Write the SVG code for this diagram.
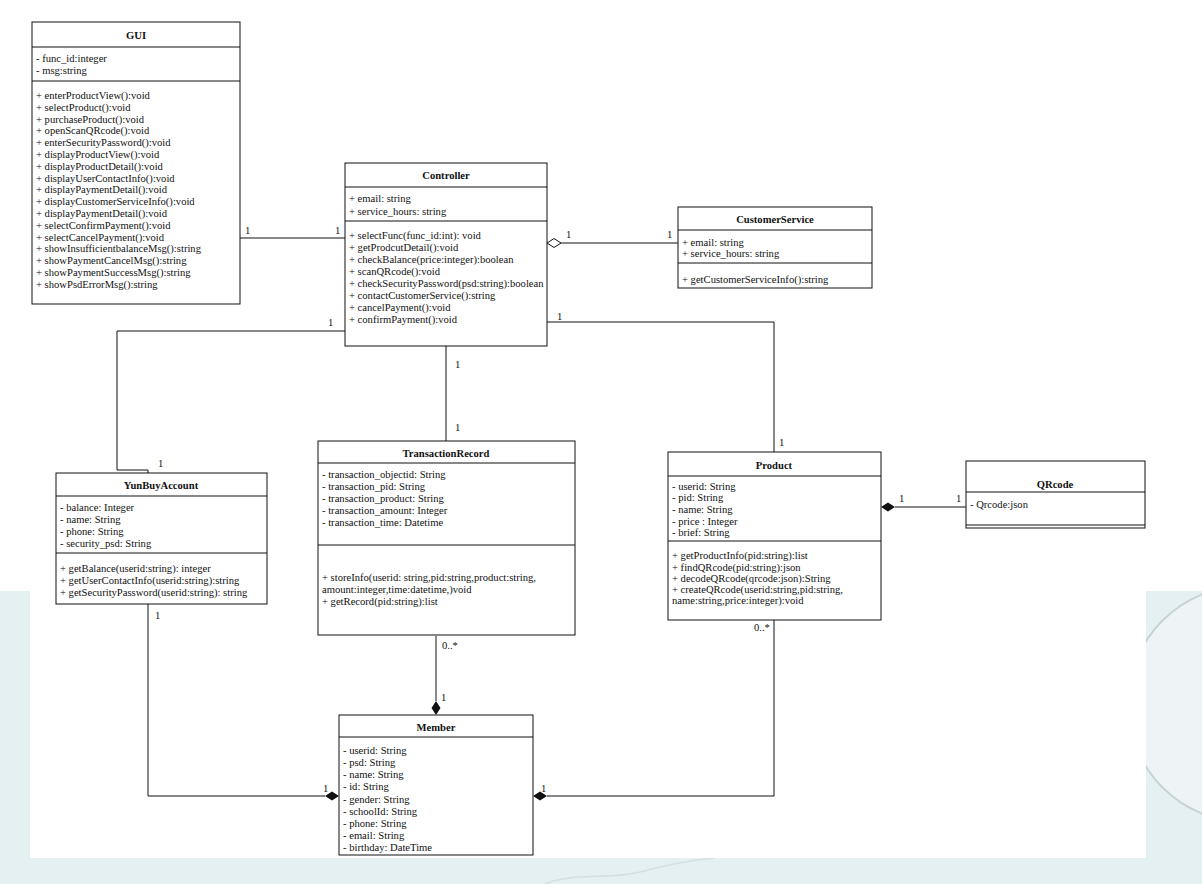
<svg xmlns="http://www.w3.org/2000/svg" width="1202" height="884" viewBox="0 0 1202 884">
<style>
text{font-family:"Liberation Serif","Times New Roman",serif;font-size:10.6px;fill:#111}
.t{font-weight:bold;text-anchor:middle}
.box{fill:#fff;stroke:#111;stroke-width:1}
.sep{stroke:#111;stroke-width:1}
.ln{fill:none;stroke:#111;stroke-width:1}
</style>
<g id="background">
<rect x="0" y="0" width="1202" height="884" fill="#e5f0f2"/>
<circle cx="1246" cy="704" r="118" fill="#eef4f6" stroke="#c7d2d4" stroke-width="2"/>
<path d="M545 884 C575 872,610 880,640 872 S690 860,715 858" fill="none" stroke="#d3dfe1" stroke-width="1.5"/>
<rect x="0" y="0" width="1202" height="591" fill="#fff"/>
<rect x="30" y="0" width="1116" height="858" fill="#fff"/>
</g>
<g id="connectors">
<line class="ln" x1="240" y1="238" x2="345" y2="238"/>
<text x="245" y="234">1</text><text x="335" y="234">1</text>
<path class="ln" d="M547 243 L554 238.5 L561 243 L554 247.5 Z" fill="#fff"/>
<line class="ln" x1="561" y1="243" x2="678" y2="243"/>
<text x="566" y="238">1</text><text x="667" y="238">1</text>
<path class="ln" d="M345 331 L117 331 L117 470 L148 470 L148 473"/>
<text x="328" y="326">1</text><text x="158" y="467">1</text>
<line class="ln" x1="446" y1="346" x2="446" y2="441"/>
<text x="455" y="368">1</text><text x="455" y="431">1</text>
<path class="ln" d="M547 322 L774 322 L774 452"/>
<text x="557" y="320">1</text><text x="779" y="446">1</text>
<line class="ln" x1="895" y1="507" x2="966" y2="507"/>
<path d="M881 507 L888 502.5 L895 507 L888 511.5 Z" fill="#111"/>
<text x="899" y="502">1</text><text x="956" y="502">1</text>
<path class="ln" d="M148 604 L148 796 L325 796"/>
<path d="M339 796 L332 791.5 L325 796 L332 800.5 Z" fill="#111"/>
<text x="155" y="619">1</text><text x="323" y="792">1</text>
<line class="ln" x1="436" y1="636" x2="436" y2="701"/>
<path d="M436 715 L431.5 708 L436 701 L440.5 708 Z" fill="#111"/>
<text x="442" y="649">0..*</text><text x="441" y="701">1</text>
<path class="ln" d="M774 620 L774 796 L547 796"/>
<path d="M533 796 L540 791.5 L547 796 L540 800.5 Z" fill="#111"/>
<text x="754" y="631">0..*</text><text x="541" y="792">1</text>
</g>
<g id="GUI">
<rect class="box" x="32" y="22" width="208" height="282"/>
<text class="t" x="136" y="39">GUI</text>
<line class="sep" x1="32" y1="47" x2="240" y2="47"/>
<text x="36" y="62">- func_id:integer</text>
<text x="36" y="74">- msg:string</text>
<line class="sep" x1="32" y1="81" x2="240" y2="81"/>
<text x="36" y="99">+ enterProductView():void</text>
<text x="36" y="110.8">+ selectProduct():void</text>
<text x="36" y="122.6">+ purchaseProduct():void</text>
<text x="36" y="134.4">+ openScanQRcode():void</text>
<text x="36" y="146.2">+ enterSecurityPassword():void</text>
<text x="36" y="158">+ displayProductView():void</text>
<text x="36" y="169.8">+ displayProductDetail():void</text>
<text x="36" y="181.6">+ displayUserContactInfo():void</text>
<text x="36" y="193.4">+ displayPaymentDetail():void</text>
<text x="36" y="205.2">+ displayCustomerServiceInfo():void</text>
<text x="36" y="217">+ displayPaymentDetail():void</text>
<text x="36" y="228.8">+ selectConfirmPayment():void</text>
<text x="36" y="240.6">+ selectCancelPayment():void</text>
<text x="36" y="252.4">+ showInsufficientbalanceMsg():string</text>
<text x="36" y="264.2">+ showPaymentCancelMsg():string</text>
<text x="36" y="276">+ showPaymentSuccessMsg():string</text>
<text x="36" y="287.8">+ showPsdErrorMsg():string</text>
</g>
<g id="Controller">
<rect class="box" x="345" y="163" width="202" height="183"/>
<text class="t" x="446" y="179">Controller</text>
<line class="sep" x1="345" y1="187" x2="547" y2="187"/>
<text x="349" y="202">+ email: string</text>
<text x="349" y="215">+ service_hours: string</text>
<line class="sep" x1="345" y1="221" x2="547" y2="221"/>
<text x="349" y="239">+ selectFunc(func_id:int): void</text>
<text x="349" y="251">+ getProdcutDetail():void</text>
<text x="349" y="263">+ checkBalance(price:integer):boolean</text>
<text x="349" y="275">+ scanQRcode():void</text>
<text x="349" y="287">+ checkSecurityPassword(psd:string):boolean</text>
<text x="349" y="299">+ contactCustomerService():string</text>
<text x="349" y="311">+ cancelPayment():void</text>
<text x="349" y="323">+ confirmPayment():void</text>
</g>
<g id="CustomerService">
<rect class="box" x="678" y="207" width="194" height="81"/>
<text class="t" x="775" y="223">CustomerService</text>
<line class="sep" x1="678" y1="230" x2="872" y2="230"/>
<text x="682" y="246">+ email: string</text>
<text x="682" y="257">+ service_hours: string</text>
<line class="sep" x1="678" y1="263" x2="872" y2="263"/>
<text x="682" y="283">+ getCustomerServiceInfo():string</text>
</g>
<g id="YunBuyAccount">
<rect class="box" x="56" y="473" width="211" height="131"/>
<text class="t" x="161" y="489">YunBuyAccount</text>
<line class="sep" x1="56" y1="496" x2="267" y2="496"/>
<text x="60" y="511">- balance: Integer</text>
<text x="60" y="523">- name: String</text>
<text x="60" y="535">- phone: String</text>
<text x="60" y="547">- security_psd: String</text>
<line class="sep" x1="56" y1="553" x2="267" y2="553"/>
<text x="60" y="572">+ getBalance(userid:string): integer</text>
<text x="60" y="584">+ getUserContactInfo(userid:string):string</text>
<text x="60" y="596">+ getSecurityPassword(userid:string): string</text>
</g>
<g id="TransactionRecord">
<rect class="box" x="318" y="441" width="257" height="194"/>
<text class="t" x="446" y="457">TransactionRecord</text>
<line class="sep" x1="318" y1="463" x2="575" y2="463"/>
<text x="322" y="478">- transaction_objectid: String</text>
<text x="322" y="490">- transaction_pid: String</text>
<text x="322" y="502">- transaction_product: String</text>
<text x="322" y="514">- transaction_amount: Integer</text>
<text x="322" y="526">- transaction_time: Datetime</text>
<line class="sep" x1="318" y1="545" x2="575" y2="545"/>
<text x="322" y="581">+ storeInfo(userid: string,pid:string,product:string,</text>
<text x="322" y="593">amount:integer,time:datetime,)void</text>
<text x="322" y="605">+ getRecord(pid:string):list</text>
</g>
<g id="Product">
<rect class="box" x="668" y="452" width="213" height="168"/>
<text class="t" x="774" y="469">Product</text>
<line class="sep" x1="668" y1="476" x2="881" y2="476"/>
<text x="672" y="490">- userid: String</text>
<text x="672" y="501">- pid: String</text>
<text x="672" y="513">- name: String</text>
<text x="672" y="525">- price : Integer</text>
<text x="672" y="536">- brief: String</text>
<line class="sep" x1="668" y1="541" x2="881" y2="541"/>
<text x="672" y="559">+ getProductInfo(pid:string):list</text>
<text x="672" y="571">+ findQRcode(pid:string):json</text>
<text x="672" y="582">+ decodeQRcode(qrcode:json):String</text>
<text x="672" y="593">+ createQRcode(userid:string,pid:string,</text>
<text x="672" y="604">name:string,price:integer):void</text>
</g>
<g id="QRcode">
<rect class="box" x="966" y="461" width="179" height="67"/>
<text class="t" x="1055" y="488">QRcode</text>
<line class="sep" x1="966" y1="492" x2="1145" y2="492"/>
<text x="970" y="508">- Qrcode:json</text>
<line class="sep" x1="966" y1="525" x2="1145" y2="525"/>
</g>
<g id="Member">
<rect class="box" x="339" y="715" width="194" height="140"/>
<text class="t" x="436" y="731">Member</text>
<line class="sep" x1="339" y1="737" x2="533" y2="737"/>
<text x="343" y="754">- userid: String</text>
<text x="343" y="766">- psd: String</text>
<text x="343" y="778">- name: String</text>
<text x="343" y="790">- id: String</text>
<text x="343" y="803">- gender: String</text>
<text x="343" y="815">- schoolId: String</text>
<text x="343" y="827">- phone: String</text>
<text x="343" y="839">- email: String</text>
<text x="343" y="851">- birthday: DateTime</text>
</g>
</svg>
